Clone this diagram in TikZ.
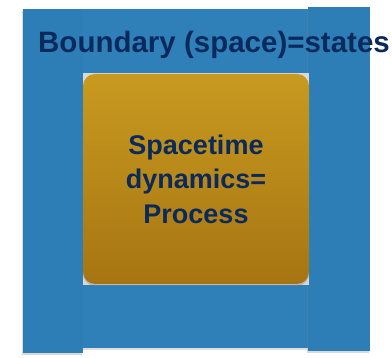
\documentclass[tikz,border=0pt]{standalone}
\usepackage{fontspec}
\setsansfont{Liberation Sans}
\usetikzlibrary{shadows,positioning}
\definecolor{felt}{RGB}{47,128,184}
\definecolor{feltside}{RGB}{45,126,183}
\definecolor{goldtop}{RGB}{201,154,31}
\definecolor{goldlow}{RGB}{166,117,19}
\definecolor{ink}{RGB}{11,42,92}
\tikzstyle{bulk}=[fill=felt, draw=none, inner sep=0pt, drop shadow={shadow xshift=0pt, shadow yshift=-2pt, opacity=0.25}]
\tikzstyle{side}=[fill=feltside, draw=none, inner sep=0pt, minimum width=60pt, minimum height=344pt, drop shadow={shadow xshift=-1.5pt, shadow yshift=-2.5pt, opacity=0.3}]
\tikzstyle{proc}=[top color=goldtop, bottom color=goldlow, draw=none, rounded corners=12pt, inner sep=0pt, minimum width=226pt, minimum height=210pt, drop shadow={shadow xshift=0pt, shadow yshift=-2pt, opacity=0.35}]
\tikzstyle{lbl}=[text=ink, font=\sffamily\bfseries\fontsize{27}{34.5}\selectfont, inner sep=0pt, align=center]

\begin{document}
\begin{tikzpicture}[x=1pt,y=1pt]
        \useasboundingbox (0,0) rectangle (392,358);
        % felt board: middle piece and the two side strips
        \draw (195.5,179.5) node[bulk, minimum width=225pt, minimum height=339pt] (board) {};
        \draw (53,177) node[side] (lstrip) {};
        \draw (339,179) node[side, minimum width=62pt] (rstrip) {};
        % process card
        \fill[gray!30] (83,73) rectangle (309,285);
        \draw (196,179) node[proc] (card) {};
        \draw (card.center) node[lbl] (proctext) {Spacetime\\dynamics=\\Process};
        \draw (38,305) node[lbl, anchor=base west, font=\sffamily\bfseries\fontsize{29.5}{34}\selectfont] (bndtext) {Boundary (space)=states};
\end{tikzpicture}
\end{document}
